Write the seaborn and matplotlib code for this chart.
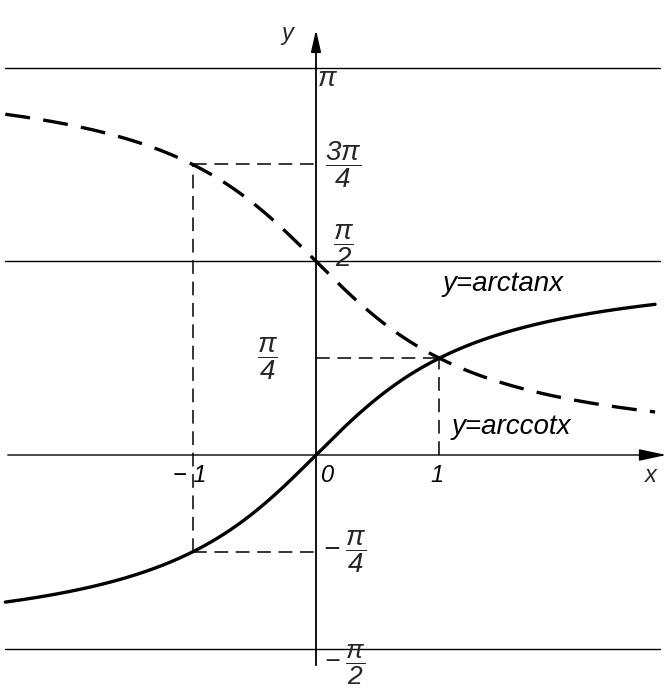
import numpy as np
import pandas as pd
import matplotlib
matplotlib.use("Agg")
import matplotlib.pyplot as plt
import seaborn as sns

# curve samples (x range visible in the figure)
x_start = -2.52
x_end = 2.75
n_points = 300

# special points marked with dashed guides
guide_x = [-1, 1]
guide_y_at_neg = [-np.pi / 4, 3 * np.pi / 4]   # arctan(-1), arccot(-1)
guide_y_at_pos = [np.pi / 4]                   # arctan(1) = arccot(1)

# horizontal asymptotes
asymptotes = [np.pi, np.pi / 2, -np.pi / 2]

# tick labels on the x axis
xtick_vals = [-1, 0, 1]
xtick_labels = ["\u2212 1", "0", "1"]

xs = np.linspace(x_start, x_end, n_points)
df = pd.DataFrame({
    "x": np.concatenate([xs, xs]),
    "y": np.concatenate([np.arctan(xs), np.pi / 2 - np.arctan(xs)]),
    "func": ["arctan"] * n_points + ["arccot"] * n_points,
})

sns.set_theme(style="white")
plt.rcParams["font.family"] = ["Liberation Sans", "DejaVu Sans"]
plt.rcParams["mathtext.fontset"] = "custom"
plt.rcParams["mathtext.rm"] = "Liberation Sans:italic"
plt.rcParams["mathtext.it"] = "Liberation Sans:italic"

fig = plt.figure(figsize=(6.69, 6.92), dpi=100)
ax = fig.add_axes([0, 0, 1, 1])
u = 123.3
ax.set_xlim(-316 / u, 353 / u)
ax.set_ylim(-237 / u, 455 / u)
ax.axis("off")

# asymptote lines
for yv in asymptotes:
    ax.plot([-311 / u, 344 / u], [yv, yv], color="black", lw=1.0)

# axes with arrows
ax.annotate("", xy=(353 / u, 0), xytext=(-311 / u, 0),
            arrowprops=dict(arrowstyle="-|>,head_length=1.4,head_width=0.3",
                            color="black", lw=1.0))
ax.annotate("", xy=(0, 428 / u), xytext=(0, -213 / u),
            arrowprops=dict(arrowstyle="-|>,head_length=1.1,head_width=0.25",
                            color="black", lw=1.3))

# curves
sns.lineplot(data=df[df["func"] == "arctan"], x="x", y="y", ax=ax,
             color="black", lw=2.4, legend=False)
sns.lineplot(data=df[df["func"] == "arccot"], x="x", y="y", ax=ax,
             color="black", lw=2.4, legend=False)
ax.lines[-1].set_dashes((7.5, 4))

# dashed guides
gkw = dict(color="black", lw=1.1, dashes=(9, 5))
ax.plot([guide_x[0], guide_x[0]], [guide_y_at_neg[0], guide_y_at_neg[1]], **gkw)
ax.plot([guide_x[0], 0], [guide_y_at_neg[0], guide_y_at_neg[0]], **gkw)
ax.plot([guide_x[0], 0], [guide_y_at_neg[1], guide_y_at_neg[1]], **gkw)
ax.plot([guide_x[1], guide_x[1]], [0, guide_y_at_pos[0]], **gkw)
ax.plot([0, guide_x[1]], [guide_y_at_pos[0], guide_y_at_pos[0]], **gkw)

fs = 20
ffs = 20
tkw = dict(fontsize=fs, style="italic", color="black")
for xv, lab in zip(xtick_vals, xtick_labels):
    dx = 0.09 if xv == 0 else -0.02
    ax.text(xv + dx, -0.07, lab, ha="center", va="top", fontsize=fs - 3,
            style="italic", color="black")

ax.text(-0.23, 3.42, "y", ha="center", va="center", fontsize=fs - 3, style="italic")
ax.text(2.72, -0.17, "x", ha="center", va="center", fontsize=fs - 3, style="italic")
ax.text(0.09, np.pi - 0.09, r"$\pi$", ha="center", va="center", fontsize=fs)
ax.text(0.22, 3 * np.pi / 4, r"$\dfrac{3\pi}{4}$", ha="center", va="center", fontsize=ffs)
ax.text(0.22, 1.70, r"$\dfrac{\pi}{2}$", ha="center", va="center", fontsize=ffs)
ax.text(-0.39, np.pi / 4, r"$\dfrac{\pi}{4}$", ha="center", va="center", fontsize=ffs)
ax.text(0.23, -np.pi / 4, r"$-\;\dfrac{\pi}{4}$", ha="center", va="center", fontsize=ffs)
ax.text(0.23, -1.70, r"$-\;\dfrac{\pi}{2}$", ha="center", va="center", fontsize=ffs - 1)
ax.text(1.03, 1.39, "y=arctanx", ha="left", va="center", **tkw)
ax.text(1.1, 0.23, "y=arccotx", ha="left", va="center", **tkw)

fig.savefig("out.png", dpi=100)
